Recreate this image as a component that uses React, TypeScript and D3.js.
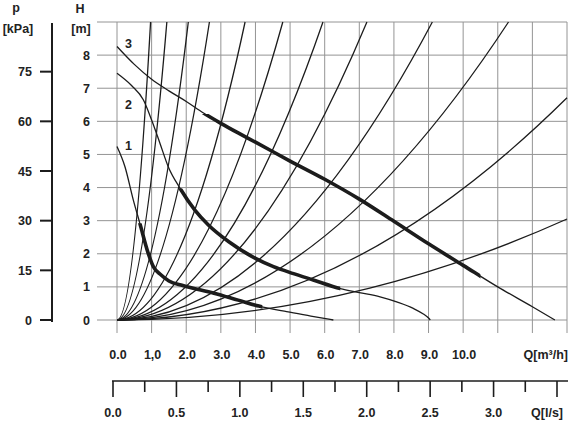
import { useEffect, useRef } from "react";
import * as d3 from "d3";

// axis ticks and labels
const flowGrid = [0, 1, 2, 3, 4, 5, 6, 7, 8, 9, 10, 11, 12, 13];
const flowLabels = ["0.0", "1,0", "2.0", "3.0", "4.0", "5.0", "6.0", "7.0", "8.0", "9.0", "10.0"];
const headGrid = [0, 1, 2, 3, 4, 5, 6, 7, 8, 9];
const headLabels = ["0", "1", "2", "3", "4", "5", "6", "7", "8"];
const pressureTicks = [0, 15, 30, 45, 60, 75];
const litreMajor = [0, 0.5, 1, 1.5, 2, 2.5, 3, 3.5];
const litreLabels = ["0.0", "0.5", "1.0", "1.5", "2.0", "2.5", "3.0"];
const litreMinor = [0.25, 0.75, 1.25, 1.75, 2.25, 2.75, 3.25];

// system curves (parabolas through the origin): point where each one leaves the grid
const systemEndQ = [0.97, 1.44, 2.06, 2.67, 3.7, 4.79, 5.95, 7.22, 9.11, 11.31, 13, 13];
const systemEndH = [9, 9, 9, 9, 9, 9, 9, 9, 9, 9, 6.71, 3.05];

// pump curves, speed 1..3
const pump1Q = [0, 0.23, 0.47, 0.66, 0.9, 1.05, 1.25, 1.5, 1.9, 2.8, 3.5, 4.1, 4.9, 5.6, 6.25];
const pump1H = [5.24, 4.63, 3.63, 2.92, 2.02, 1.61, 1.38, 1.18, 1.04, 0.81, 0.6, 0.42, 0.25, 0.12, 0];
const pump2Q = [0, 0.42, 0.76, 1.0, 1.24, 1.48, 1.82, 2.25, 2.64, 3.22, 4.0, 4.52, 5.1, 5.67, 6.45, 7.0, 7.6, 8.1, 8.56, 8.85, 9.0, 9.05];
const pump2H = [7.45, 7.08, 6.65, 6.04, 5.34, 4.63, 3.98, 3.32, 2.87, 2.37, 1.86, 1.61, 1.4, 1.21, 0.95, 0.83, 0.7, 0.54, 0.35, 0.18, 0.06, 0];
const pump3Q = [0, 0.5, 1.0, 1.5, 2.0, 2.5, 3.0, 3.5, 4.0, 5.0, 6.0, 7.0, 8.0, 9.0, 10.0, 11.0, 12.0, 12.65];
const pump3H = [8.26, 7.72, 7.27, 6.92, 6.6, 6.25, 5.94, 5.65, 5.37, 4.8, 4.25, 3.65, 2.98, 2.3, 1.65, 1.0, 0.4, 0];
const pumpNames = ["1", "2", "3"];
const thickFrom = [0.66, 1.82, 2.54];
const thickTo = [4.2, 6.45, 10.5];

// height (in m) at which each speed number sits, just right of the H axis
const nameAtH = [5.28, 6.5, 8.36];

const W = 569;
const H = 422;
const FONT = "'Liberation Sans', Arial, sans-serif";
const INK = "#1c1c1c";

const App = () => {
  const ref = useRef<SVGSVGElement>(null);

  useEffect(() => {
    const svg = d3.select(ref.current);
    svg.selectAll("*").remove();

    const x = d3.scaleLinear().domain([0, 13]).range([117, 567]);
    const y = d3.scaleLinear().domain([0, 9]).range([320, 22]);
    const p = d3.scaleLinear().domain([0, 90]).range([320, 22]);
    const ls = d3.scaleLinear().domain([0, 3.5]).range([113, 557]);

    const text = (g: any) =>
      g.attr("font-family", FONT).attr("font-weight", "bold").attr("font-size", 12.5).attr("fill", "#222");

    // grid
    const grid = svg.append("g").attr("stroke", "#949494").attr("stroke-width", 1);
    grid.selectAll("line.v")
      .data(flowGrid)
      .join("line")
      .attr("x1", (d) => x(d)).attr("x2", (d) => x(d))
      .attr("y1", y(9)).attr("y2", 333);
    grid.selectAll("line.h")
      .data(headGrid)
      .join("line")
      .attr("class", "h")
      .attr("x1", 97).attr("x2", x(13))
      .attr("y1", (d) => y(d)).attr("y2", (d) => y(d));

    // system curves: a parabola from the origin is a quadratic bezier with control at (Q/2, 0)
    svg.append("g")
      .selectAll("path")
      .data(systemEndQ.map((q, i) => [q, systemEndH[i]]))
      .join("path")
      .attr("fill", "none")
      .attr("stroke", INK)
      .attr("stroke-width", 1.3)
      .attr("d", ([q, h]) => {
        const path = d3.path();
        path.moveTo(x(0), y(0));
        path.quadraticCurveTo(x(q / 2), y(0), x(q), y(h));
        return path.toString();
      });

    // pump curves
    const pumps = [
      [pump1Q, pump1H],
      [pump2Q, pump2H],
      [pump3Q, pump3H],
    ];
    const line = d3.line<[number, number]>()
      .x((d) => x(d[0]))
      .y((d) => y(d[1]))
      .curve(d3.curveMonotoneX);

    const defs = svg.append("defs");
    const pad = 4;
    pumps.forEach(([qs, hs], i) => {
      const pts = qs.map((q, j) => [q, hs[j]] as [number, number]);
      const interp = d3.scaleLinear().domain(qs).range(hs);
      const qa = thickFrom[i];
      const qb = thickTo[i];
      const ha = interp(qa);
      const hb = interp(qb);
      defs.append("clipPath")
        .attr("id", "thick" + i)
        .append("rect")
        .attr("x", x(qa) - pad)
        .attr("y", y(ha))
        .attr("width", x(qb) - x(qa) + pad)
        .attr("height", y(hb) - y(ha) + pad);

      svg.append("path")
        .datum(pts)
        .attr("fill", "none")
        .attr("stroke", INK)
        .attr("stroke-width", 1.3)
        .attr("d", line);
      svg.append("path")
        .datum(pts)
        .attr("fill", "none")
        .attr("stroke", INK)
        .attr("stroke-width", 3.6)
        .attr("clip-path", "url(#thick" + i + ")")
        .attr("d", line);

      svg.append("text")
        .call(text)
        .attr("x", 128.5)
        .attr("y", y(nameAtH[i]) + 4.5)
        .attr("text-anchor", "middle")
        .text(pumpNames[i]);
    });

    // head axis labels
    svg.append("g")
      .selectAll("text")
      .data(headLabels)
      .join("text")
      .call(text)
      .attr("x", 90)
      .attr("y", (_, i) => y(i) + 4.5)
      .attr("text-anchor", "end")
      .text((d) => d);
    svg.append("text").call(text).attr("x", 80).attr("y", 12.5).attr("text-anchor", "middle").text("H");
    svg.append("text").call(text).attr("x", 81).attr("y", 33).attr("text-anchor", "middle").text("[m]");

    // pressure axis
    const pAxis = svg.append("g");
    pAxis.append("line")
      .attr("x1", 52).attr("x2", 52)
      .attr("y1", p(90) + 1).attr("y2", p(0) + 2)
      .attr("stroke", INK).attr("stroke-width", 2);
    pAxis.selectAll("line.t")
      .data(pressureTicks)
      .join("line")
      .attr("class", "t")
      .attr("x1", 40).attr("x2", 52)
      .attr("y1", (d) => p(d)).attr("y2", (d) => p(d))
      .attr("stroke", INK).attr("stroke-width", 2);
    pAxis.selectAll("text")
      .data(pressureTicks)
      .join("text")
      .call(text)
      .attr("x", 32)
      .attr("y", (d) => p(d) + 4.5)
      .attr("text-anchor", "end")
      .text((d) => d);
    svg.append("text").call(text).attr("x", 16).attr("y", 12).attr("text-anchor", "middle").text("p");
    svg.append("text").call(text).attr("x", 18).attr("y", 33).attr("text-anchor", "middle").text("[kPa]");

    // flow labels in m3/h
    svg.append("g")
      .selectAll("text")
      .data(flowLabels)
      .join("text")
      .call(text)
      .attr("x", (_, i) => x(i) + 1)
      .attr("y", 359)
      .attr("text-anchor", "middle")
      .text((d) => d);
    svg.append("text").call(text).attr("x", 568).attr("y", 359).attr("text-anchor", "end").text("Q[m³/h]");

    // flow axis in l/s
    const lAxis = svg.append("g").attr("stroke", INK).attr("stroke-width", 1.6);
    lAxis.append("line").attr("x1", ls(0) - 1).attr("x2", 568).attr("y1", 381).attr("y2", 381);
    lAxis.selectAll("line.major")
      .data(litreMajor)
      .join("line")
      .attr("class", "major")
      .attr("x1", (d) => ls(d)).attr("x2", (d) => ls(d))
      .attr("y1", 381).attr("y2", 397);
    lAxis.selectAll("line.minor")
      .data(litreMinor)
      .join("line")
      .attr("class", "minor")
      .attr("x1", (d) => ls(d)).attr("x2", (d) => ls(d))
      .attr("y1", 381).attr("y2", 392);
    svg.append("g")
      .selectAll("text")
      .data(litreLabels)
      .join("text")
      .call(text)
      .attr("x", (_, i) => ls(i * 0.5))
      .attr("y", 417)
      .attr("text-anchor", "middle")
      .text((d) => d);
    svg.append("text").call(text).attr("x", 563).attr("y", 417).attr("text-anchor", "end").text("Q[l/s]");
  }, []);

  return (
    <svg
      ref={ref}
      width={W}
      height={H}
      style={{ position: "absolute", left: 0, top: 0, background: "#fff" }}
    />
  );
};

export default App;
